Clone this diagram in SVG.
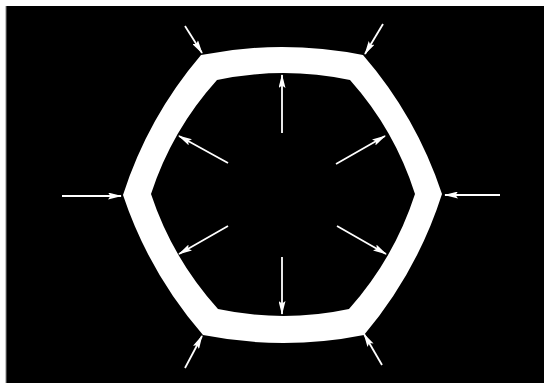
<svg xmlns="http://www.w3.org/2000/svg" width="544" height="383" viewBox="0 0 544 383">
  <defs>
    <style>
      .bg { fill: #000000; }
      .ring { fill: #ffffff; fill-rule: evenodd; stroke: none; }
      .arr { stroke: #ffffff; stroke-width: 1.8; fill: none; marker-end: url(#head); }
    </style>
    <marker id="head" viewBox="0 0 14 7" refX="13" refY="3.5" markerWidth="14" markerHeight="7" markerUnits="userSpaceOnUse" orient="auto">
      <path d="M0,0 L14,3.5 L0,7 L2.5,3.5 Z" fill="#ffffff"/>
    </marker>
  </defs>
  <rect x="0" y="0" width="544" height="383" fill="#ffffff"/>
  <rect class="bg" x="6" y="6" width="538" height="377"/>
  <line x1="6" y1="6" x2="6" y2="383" stroke="#888888" stroke-width="1"/>
  <g id="ring">
    <path class="ring" d="M201,55 Q282,39 363,55 Q416.4,116.6 442,194 Q417,272.2 364,335 Q283.5,351 203,335 Q149.1,272.9 123,195 Q148,117.2 201,55 Z
      M217,80 Q283.5,66 350,80 Q394.7,130.1 415,194 Q394.1,258.5 349,309 Q283.5,323 218,309 Q172.4,258.5 151,194 Q171.9,130 217,80 Z"/>
  </g>
  <g id="arrows">
    <line class="arr" x1="185" y1="26" x2="202" y2="53"/>
    <line class="arr" x1="383" y1="24" x2="365" y2="54"/>
    <line class="arr" x1="62" y1="196" x2="121" y2="196"/>
    <line class="arr" x1="500" y1="195" x2="445" y2="195"/>
    <line class="arr" x1="185" y1="368" x2="202" y2="336"/>
    <line class="arr" x1="382" y1="365" x2="364" y2="334"/>
    <line class="arr" x1="282" y1="133" x2="282" y2="75"/>
    <line class="arr" x1="282" y1="257" x2="282" y2="314"/>
    <line class="arr" x1="228" y1="163" x2="179" y2="136"/>
    <line class="arr" x1="336" y1="164" x2="385" y2="136"/>
    <line class="arr" x1="228" y1="226" x2="179" y2="254"/>
    <line class="arr" x1="337" y1="226" x2="386" y2="254"/>
  </g>
</svg>
